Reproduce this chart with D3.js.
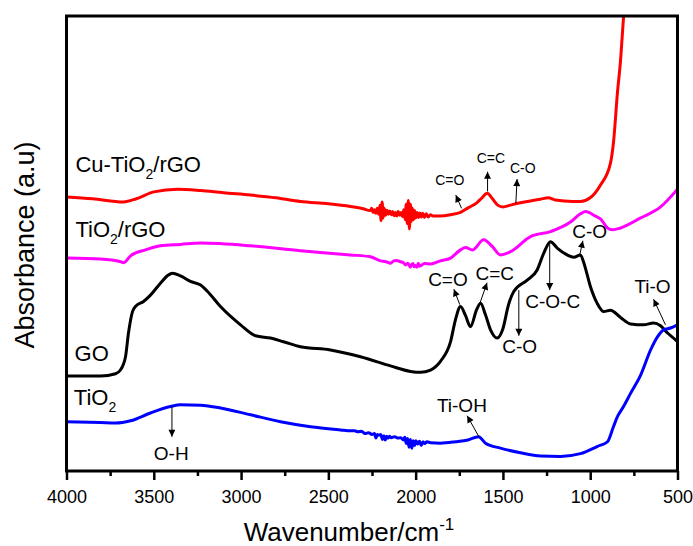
<!DOCTYPE html>
<html>
<head>
<meta charset="utf-8">
<script src="https://cdn.jsdelivr.net/npm/d3@7"></script>
<style>
  body { margin: 0; background: #fff; }
  svg { display: block; }
  text { font-family: "Liberation Sans", Arial, Helvetica, sans-serif; fill: #000; }
</style>
</head>
<body>
<svg id="chart" width="693" height="546"></svg>
<script>
// ---- x axis ticks (wavenumber, cm^-1) ----
const xTicks = [4000, 3500, 3000, 2500, 2000, 1500, 1000, 500];
const xMinorTicks = [3750, 3250, 2750, 2250, 1750, 1250, 750];

// ---- FTIR spectra: [wavenumber, absorbance (a.u., stacked offsets)] ----
const tio2Spectrum = [
  [4000,11.2],[3805,11.0],[3719,10.9],[3633,11.4],[3519,13.1],[3404,14.5],[3347,14.9],
  [3232,14.8],[3118,14.2],[2946,12.7],[2774,11.2],[2602,10.1],[2430,9.4],[2373,9.2],
  [2350,9.2],[2330,9.0],[2310,9.1],[2290,8.6],[2270,8.8],[2250,8.4],[2236,8.6],[2228,7.6],
  [2220,8.4],[2210,8.2],[2200,8.4],[2190,7.3],[2182,8.1],[2174,7.2],[2166,8.0],[2158,7.6],
  [2150,8.0],[2140,7.7],[2120,7.9],[2100,7.6],[2085,7.7],[2070,7.2],[2062,7.8],[2054,6.4],
  [2046,7.5],[2038,5.6],[2030,7.3],[2022,5.4],[2014,7.0],[2006,6.0],[1998,7.0],[1988,6.3],
  [1978,6.9],[1968,6.0],[1958,6.8],[1948,6.4],[1935,6.8],[1915,6.6],[1858,6.5],[1772,6.8],
  [1700,7.2],[1640,7.9],[1600,6.5],[1514,5.4],[1400,4.4],[1285,3.7],[1170,3.6],[1056,4.2],
  [958,5.8],[901,6.8],[867,10.1],[844,12.3],[809,14.5],[769,17.4],[711,21.4],[654,26.9],
  [614,29.8],[580,31.3],[540,31.7],[500,32.4]
];

const goSpectrum = [
  [4000,21.2],[3805,21.2],[3719,21.7],[3691,22.5],[3662,25.4],[3645,30.6],[3622,35.3],
  [3605,36.4],[3559,37.5],[3519,38.9],[3462,41.5],[3420,43.2],[3393,43.7],[3347,43.1],
  [3290,41.9],[3232,41.1],[3192,39.7],[3118,36.4],[3003,32.4],[2917,30.0],[2831,29.5],
  [2757,28.7],[2660,27.6],[2488,26.9],[2316,25.4],[2144,23.4],[2030,22.2],[1972,22.0],
  [1915,22.5],[1858,24.4],[1800,28.7],[1772,33.5],[1743,36.4],[1714,34.4],[1686,32.0],
  [1651,35.7],[1628,37.1],[1600,34.6],[1571,31.3],[1533,29.5],[1502,31.3],[1468,36.8],
  [1438,39.7],[1361,42.2],[1304,44.4],[1266,48.1],[1228,50.6],[1189,49.2],[1132,47.7],
  [1094,47.2],[1056,47.7],[1037,46.0],[999,40.8],[960,37.1],[922,35.3],[884,35.6],
  [826,34.0],[769,32.6],[694,32.4],[637,32.8],[597,32.2],[557,30.6],[511,29.1],[500,28.7]
];

const tio2RgoSpectrum = [
  [4000,47.0],[3805,46.8],[3690,46.2],[3673,46.0],[3633,47.5],[3547,48.8],[3462,49.7],
  [3347,50.0],[3232,50.3],[2946,49.7],[2660,48.6],[2373,47.7],[2259,47.3],[2201,46.4],
  [2170,46.2],[2144,45.9],[2125,46.4],[2110,46.5],[2087,46.2],[2070,46.0],[2058,45.5],
  [2044,45.9],[2030,45.0],[2022,45.6],[2015,45.8],[2008,45.1],[2001,45.4],[1992,45.0],
  [1985,45.9],[1978,45.2],[1972,45.3],[1950,45.8],[1915,45.7],[1858,46.4],[1800,47.0],
  [1743,48.8],[1714,49.3],[1674,48.8],[1611,51.0],[1560,49.5],[1514,47.7],[1457,48.4],
  [1342,51.7],[1228,52.8],[1113,54.9],[1056,56.7],[1027,57.2],[970,56.2],[941,55.6],
  [901,53.6],[872,53.2],[826,53.6],[711,55.8],[597,58.2],[500,62.1]
];

const cuTio2RgoSpectrum = [
  [4000,60.4],[3850,60.0],[3673,59.3],[3600,60.0],[3500,61.5],[3364,62.1],[3232,61.8],
  [3100,61.3],[2946,60.8],[2800,60.2],[2660,59.4],[2500,58.9],[2373,58.3],[2300,57.8],
  [2260,57.4],[2252,57.9],[2244,57.0],[2236,57.6],[2228,56.8],[2220,57.9],[2212,56.6],
  [2204,58.6],[2198,55.2],[2192,59.3],[2186,55.8],[2180,57.9],[2172,56.4],[2164,57.5],
  [2156,56.6],[2148,57.3],[2140,56.5],[2132,57.2],[2124,56.3],[2116,57.0],[2108,56.2],
  [2100,57.2],[2092,56.4],[2084,57.0],[2076,56.1],[2068,57.6],[2060,55.4],[2054,58.8],
  [2048,54.6],[2042,59.6],[2036,53.4],[2030,58.8],[2024,55.0],[2018,57.9],[2012,55.4],
  [2006,57.4],[2000,55.8],[1992,57.0],[1984,55.9],[1976,56.9],[1968,56.0],[1960,56.8],
  [1950,55.9],[1940,56.7],[1928,56.0],[1915,56.5],[1900,56.2],[1858,56.2],[1800,56.5],
  [1743,57.0],[1700,58.0],[1650,59.1],[1620,60.2],[1590,61.2],[1560,60.0],[1530,58.6],
  [1500,58.2],[1457,58.6],[1400,59.1],[1330,59.6],[1285,59.9],[1240,60.2],[1200,59.7],
  [1100,59.4],[1056,59.4],[1000,60.2],[941,63.0],[884,67.8],[867,72.2],[844,83.2],
  [826,90.4],[809,99.8],[800,105.7]
];

// ---- sample names, placed at [wavenumber, absorbance] ----
const sampleLabels = [
  { name: "Cu-TiO", sub: "2", rest: "/rGO", at: [3949, 65.9] },
  { name: "TiO",    sub: "2", rest: "/rGO", at: [3949, 51.7] },
  { name: "GO",     sub: "",  rest: "",     at: [3954, 24.4] },
  { name: "TiO",    sub: "2", rest: "",     at: [3958, 14.9] }
];

// ---- band assignments: label position, arrow tail and arrow head ----
const bandNotes = [
  { text: "C=O",   size: 14, at: [1804, 63.0], from: [1737, 57.9], to: [1770, 60.8] },
  { text: "C=C",   size: 14, at: [1569, 67.8], from: [1588, 61.6], to: [1588, 65.9] },
  { text: "C-O",   size: 14, at: [1386, 65.6], from: [1426, 59.0], to: [1419, 64.3] },
  { text: "C=O",   size: 19, at: [1815, 40.8], from: [1747, 36.8], to: [1781, 40.2] },
  { text: "C=C",   size: 19, at: [1547, 42.2], from: [1632, 37.1], to: [1591, 41.6] },
  { text: "C-O-C", size: 19, at: [1215, 36.0], from: [1232, 50.6], to: [1232, 40.0] },
  { text: "C-O",   size: 19, at: [1003, 51.4], from: [1060, 47.7], to: [1042, 50.8] },
  { text: "C-O",   size: 19, at: [1404, 26.2], from: [1409, 40.0], to: [1409, 30.0] },
  { text: "Ti-O",  size: 19, at: [643, 39.3],  from: [569, 32.4],  to: [637, 38.0] },
  { text: "Ti-OH", size: 19, at: [1735, 13.4], from: [1636, 7.8],  to: [1705, 12.5] },
  { text: "O-H",   size: 19, at: [3400, 2.8],  from: [3396, 14.5], to: [3396, 7.9] }
];

// ---- layout ----
const plot = { left: 66.5, right: 677.5, top: 16, bottom: 471 };

const svg = d3.select("#chart");

const x = d3.scaleLinear().domain([4000, 500]).range([plot.left, plot.right]);
const y = d3.scaleLinear().domain([0.4, 100]).range([plot.bottom, plot.top]);

const defs = svg.append("defs");
defs.append("clipPath").attr("id", "plot-clip")
  .append("rect")
  .attr("x", plot.left).attr("y", plot.top)
  .attr("width", plot.right - plot.left).attr("height", plot.bottom - plot.top);

defs.append("marker")
  .attr("id", "arrowhead")
  .attr("viewBox", "0 0 10 10")
  .attr("refX", 10).attr("refY", 5)
  .attr("markerUnits", "userSpaceOnUse")
  .attr("markerWidth", 8).attr("markerHeight", 7)
  .attr("orient", "auto")
  .append("path")
  .attr("d", "M0,0 L10,5 L0,10 Z")
  .attr("fill", "#000");

// ---- spectra ----
const line = d3.line()
  .x(d => x(d[0]))
  .y(d => y(d[1]))
  .curve(d3.curveMonotoneX);

const series = [
  { data: goSpectrum,        color: "#000000" },
  { data: tio2Spectrum,      color: "#0000ff" },
  { data: tio2RgoSpectrum,   color: "#ff00ff" },
  { data: cuTio2RgoSpectrum, color: "#ff0000" }
];

svg.append("g")
  .attr("clip-path", "url(#plot-clip)")
  .selectAll("path")
  .data(series)
  .join("path")
  .attr("d", d => line(d.data))
  .attr("fill", "none")
  .attr("stroke", d => d.color)
  .attr("stroke-width", 3)
  .attr("stroke-linejoin", "round")
  .attr("stroke-linecap", "round");

// ---- band annotations ----
const notes = svg.append("g");
notes.selectAll("line")
  .data(bandNotes)
  .join("line")
  .attr("x1", d => x(d.from[0])).attr("y1", d => y(d.from[1]))
  .attr("x2", d => x(d.to[0])).attr("y2", d => y(d.to[1]))
  .attr("stroke", "#000")
  .attr("stroke-width", 1)
  .attr("marker-end", "url(#arrowhead)");

notes.selectAll("text")
  .data(bandNotes)
  .join("text")
  .attr("x", d => x(d.at[0]))
  .attr("y", d => y(d.at[1]))
  .attr("text-anchor", "middle")
  .attr("font-size", d => d.size)
  .text(d => d.text);

// ---- sample names ----
const names = svg.append("g")
  .selectAll("text")
  .data(sampleLabels)
  .join("text")
  .attr("x", d => x(d.at[0]))
  .attr("y", d => y(d.at[1]))
  .attr("font-size", 22);

names.append("tspan").text(d => d.name);
names.filter(d => d.sub)
  .append("tspan")
  .attr("font-size", 14)
  .attr("dy", 7)
  .text(d => d.sub);
names.filter(d => d.rest)
  .append("tspan")
  .attr("dy", -7)
  .text(d => d.rest);

// ---- x axis ----
const axisG = svg.append("g").attr("transform", `translate(0,${plot.bottom})`);

axisG.append("g")
  .call(d3.axisBottom(x).tickValues(xMinorTicks).tickSize(5).tickFormat(""))
  .call(g => g.select(".domain").remove())
  .call(g => g.selectAll(".tick line").attr("stroke", "#000").attr("stroke-width", 2.5));

axisG.append("g")
  .call(d3.axisBottom(x).tickValues(xTicks).tickSize(9).tickPadding(10).tickFormat(d3.format("d")))
  .call(g => g.select(".domain").remove())
  .call(g => g.selectAll(".tick line").attr("stroke", "#000").attr("stroke-width", 2.5))
  .call(g => g.selectAll(".tick text")
    .attr("font-family", "\"Liberation Sans\", Arial, sans-serif")
    .attr("font-size", 18)
    .attr("fill", "#000"));

// ---- frame ----
svg.append("rect")
  .attr("x", plot.left).attr("y", plot.top)
  .attr("width", plot.right - plot.left).attr("height", plot.bottom - plot.top)
  .attr("fill", "none")
  .attr("stroke", "#000")
  .attr("stroke-width", 3);

// ---- axis titles ----
const xTitle = svg.append("text")
  .attr("x", 349)
  .attr("y", 541)
  .attr("text-anchor", "middle")
  .attr("font-size", 26);
xTitle.append("tspan").text("Wavenumber/cm");
xTitle.append("tspan").attr("font-size", 17).attr("dy", -11).text("-1");

svg.append("text")
  .attr("transform", `translate(34,245) rotate(-90)`)
  .attr("text-anchor", "middle")
  .attr("font-size", 27)
  .text("Absorbance (a.u)");
</script>
</body>
</html>
